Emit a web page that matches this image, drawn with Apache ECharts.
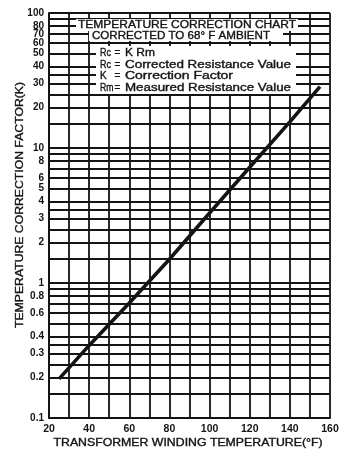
<!DOCTYPE html>
<html>
<head>
<meta charset="utf-8">
<script src="https://cdn.jsdelivr.net/npm/echarts@6/dist/echarts.min.js"></script>
<style>
html,body{margin:0;padding:0;background:#fff;}
#chart{width:355px;height:450px;}
</style>
</head>
<body>
<div id="chart"></div>
<script>
// ---- data ----
const xTickLabels = [20, 40, 60, 80, 100, 120, 140, 160];
const yTickLabels = [0.1, 0.2, 0.3, 0.4, 0.6, 0.8, 1, 2, 3, 4, 5, 6, 8, 10, 20, 30, 40, 50, 60, 70, 80, 100];
const yGridValues = [0.15, 0.2, 0.25, 0.3, 0.35, 0.4, 0.5, 0.6, 0.7, 0.8, 0.9, 1,
                     1.5, 2, 2.5, 3, 3.5, 4, 5, 6, 7, 8, 9, 10,
                     15, 20, 25, 30, 35, 40, 50, 60, 70, 80, 90, 100];
const tempF   = [25, 40, 60, 80, 100, 120, 140, 155];
const factorK = [0.195, 0.345, 0.71, 1.5, 3.3, 7.2, 15.6, 28.5];

const titleLines = ['TEMPERATURE CORRECTION CHART', 'CORRECTED TO 68° F AMBIENT'];
const defSymbols = ['Rc', 'Rc', 'K', 'Rm'];
const defTexts = ['K Rm', 'Corrected Resistance Value', 'Correction Factor', 'Measured Resistance Value'];
const xAxisName = 'TRANSFORMER WINDING TEMPERATURE(°F)';
const yAxisName = 'TEMPERATURE CORRECTION FACTOR(K)';

// ---- helpers ----
const INK = '#141414';
const FONT = '"Liberation Sans", Arial, sans-serif';
const cv = document.createElement('canvas').getContext('2d');
function scaleFor(text, font, w) { cv.font = font; return w / cv.measureText(text).width; }
function txt(text, x, y, font, targetW, opts) {
  opts = opts || {};
  const s = targetW ? scaleFor(text, font, targetW) : 1;
  return {
    type: 'text', x: x, y: y, z: 110, scaleX: s, rotation: opts.rotation || 0,
    style: {
      text: text, font: font, fill: INK, stroke: INK, lineWidth: 0.35,
      align: opts.align || 'left', verticalAlign: 'middle',
      textAlign: opts.align || 'left', textVerticalAlign: 'middle'
    }
  };
}
function rect(x, y, w, h) {
  return { type: 'rect', z: 105, shape: { x: x, y: y, width: w, height: h }, style: { fill: '#fff' } };
}

const f10 = '10px ' + FONT;
const rowY = [53, 65, 76.5, 88];
const graphics = [
  rect(76, 19, 222, 12),
  rect(89, 31, 194, 10),
  rect(96, 46, 200, 48),
  txt(titleLines[0], 78, 25.5, f10, 218),
  txt(titleLines[1], 92, 36.5, f10, 178),
  txt(xAxisName, 188, 443, f10, 269, { align: 'center' }),
  txt(yAxisName, 20, 205, f10, 246, { align: 'center', rotation: Math.PI / 2 })
];
const symWidths = [11, 11, 0, 13.5];
const defWidths = [30, 166, 108, 166];
defSymbols.forEach(function (s, i) {
  graphics.push(txt(s, 100, rowY[i], f10, symWidths[i]));
  graphics.push(txt('=', 114.5, rowY[i], f10, 0));
  graphics.push(txt(defTexts[i], 125, rowY[i], f10, defWidths[i]));
});

const chart = echarts.init(document.getElementById('chart'), null, { renderer: 'canvas' });
chart.setOption({
  animation: false,
  backgroundColor: '#fff',
  grid: { left: 49, right: 25, top: 13, bottom: 32, containLabel: false },
  xAxis: {
    type: 'value', min: 20, max: 160, interval: 10,
    axisLine: { show: true, lineStyle: { color: INK, width: 2 } },
    axisTick: { show: false },
    splitLine: { show: true, lineStyle: { color: INK, width: 1.8 } },
    axisLabel: {
      customValues: xTickLabels, margin: 6,
      color: INK, fontSize: 10.5, fontFamily: FONT, fontWeight: 'bold'
    }
  },
  yAxis: {
    type: 'log', logBase: 10, min: 0.1, max: 100,
    axisLine: { show: true, lineStyle: { color: INK, width: 2 } },
    axisTick: { show: false },
    splitLine: { show: false },
    minorSplitLine: { show: false },
    axisLabel: {
      customValues: yTickLabels, margin: 5,
      color: INK, fontSize: 10, fontFamily: FONT, fontWeight: 'bold',
      formatter: function (v) { return String(+(+v).toPrecision(3)); }
    }
  },
  series: [
    {
      type: 'line', data: [], z: 1, silent: true,
      markLine: {
        silent: true, symbol: ['none', 'none'], animation: false,
        label: { show: false },
        lineStyle: { color: INK, width: 1.8, type: 'solid' },
        data: yGridValues.map(function (v) { return { yAxis: v }; })
      }
    },
    {
      type: 'line', z: 5, showSymbol: false, symbol: 'none',
      lineStyle: { color: INK, width: 3.6 },
      data: tempF.map(function (t, i) { return [t, factorK[i]]; })
    }
  ],
  graphic: graphics
});
</script>
</body>
</html>
